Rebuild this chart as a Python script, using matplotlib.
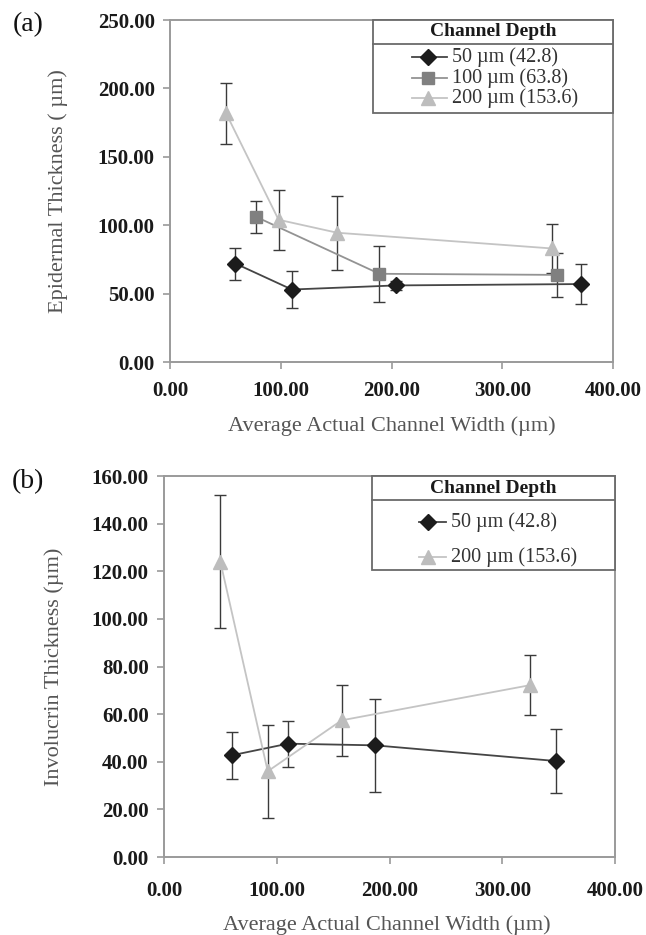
import matplotlib
matplotlib.use("Agg")
import matplotlib.pyplot as plt
from matplotlib.lines import Line2D
from matplotlib.patches import Rectangle
from matplotlib.ticker import FormatStrFormatter

plt.rcParams['font.family'] = ['Liberation Serif', 'DejaVu Serif']

# ---- panel (a): epidermal thickness ----
a_50_x = [59, 110, 204, 371]
a_50_y = [72, 53, 56, 57]
a_50_err = [11.7, 13.4, 3, 14.7]

a_100_x = [78, 189, 349]
a_100_y = [106, 64.5, 63.7]
a_100_err = [12, 20.6, 16]

a_200_x = [50.5, 98, 151, 345]
a_200_y = [182, 104, 94.5, 83]
a_200_err = [22.3, 22, 27, 17.7]

# ---- panel (b): involucrin thickness ----
b_50_x = [60, 110, 187, 348]
b_50_y = [42.7, 47.6, 46.9, 40.3]
b_50_err = [9.8, 9.6, 19.4, 13.3]

b_200_x = [50, 92, 157.5, 325]
b_200_y = [124, 36, 57.4, 72.2]
b_200_err = [27.9, 19.5, 14.9, 12.7]

labels = {'50': '50 µm (42.8)', '100': '100 µm (63.8)', '200': '200 µm (153.6)'}

styles = {
    '50': dict(marker='D', ms=8, mfc='#1c1c1c', mec='#1c1c1c', color='#454545', lw=1.3),
    '100': dict(marker='s', ms=9, mfc='#808080', mec='#808080', color='#939393', lw=1.3),
    '200': dict(marker='^', ms=10, mfc='#bdbdbd', mec='#bdbdbd', color='#c4c4c4', lw=1.3),
}

SPINE = '#9a9a9a'
TICKLBL = '#1a1a1a'
LABEL = '#555555'


def style_axes(ax, ymax, ystep, ylabel, xpad):
    ax.set_xlim(0, 400)
    ax.set_ylim(0, ymax)
    ax.set_xticks(range(0, 401, 100))
    ax.set_yticks(range(0, ymax + 1, ystep))
    ax.xaxis.set_major_formatter(FormatStrFormatter('%.2f'))
    ax.yaxis.set_major_formatter(FormatStrFormatter('%.2f'))
    for sp in ax.spines.values():
        sp.set_color(SPINE)
        sp.set_linewidth(1.4)
    ax.tick_params(direction='out', length=5, width=1.2, color=SPINE,
                   labelsize=15, labelcolor=TICKLBL)
    ax.tick_params(axis='x', pad=xpad)
    ax.tick_params(axis='y', pad=6)
    for t in ax.get_xticklabels() + ax.get_yticklabels():
        t.set_fontweight('bold')
    ax.set_xlabel('Average Actual Channel Width (µm)', fontsize=16, color=LABEL)
    ax.set_ylabel(ylabel, fontsize=16, color=LABEL)


def draw_series(ax, x, y, err, key):
    st = styles[key]
    ax.errorbar(x, y, yerr=err, fmt='none', ecolor='#3a3a3a', elinewidth=1.0,
                capsize=4, capthick=1.0, zorder=2)
    ax.plot(x, y, zorder=3, **st)


def draw_legend(ax, keys, box, sep_y, rows, key_x, text_x):
    x0, y0 = box
    ax.add_patch(Rectangle((x0, y0), 1 - x0, 1 - y0, transform=ax.transAxes,
                           fill=True, facecolor='white', edgecolor='#6a6a6a',
                           lw=1.3, zorder=5, clip_on=False))
    ax.add_line(Line2D([x0, 1], [sep_y, sep_y], transform=ax.transAxes,
                       color='#6a6a6a', lw=1.3, zorder=6))
    ax.text((x0 + 1) / 2, (1 + sep_y) / 2, 'Channel Depth', transform=ax.transAxes,
            ha='center', va='center', fontsize=14, fontweight='bold',
            color='#1a1a1a', zorder=7)
    for key, ry in zip(keys, rows):
        st = styles[key]
        ax.add_line(Line2D([key_x[0], key_x[2]], [ry, ry], transform=ax.transAxes,
                           color=st['color'], lw=st['lw'], zorder=7))
        ax.add_line(Line2D([key_x[1]], [ry], transform=ax.transAxes,
                           marker=st['marker'], ms=st['ms'], mfc=st['mfc'],
                           mec=st['mec'], ls='none', zorder=8))
        ax.text(text_x, ry, labels[key], transform=ax.transAxes, ha='left',
                va='center', fontsize=14.5, color='#333333', zorder=8)


fig = plt.figure(figsize=(6.46, 9.35), dpi=100)
ax_a = fig.add_axes([0.2632, 0.6128, 0.6858, 0.3658])
ax_b = fig.add_axes([0.2539, 0.0834, 0.6981, 0.4075])

# panel (a)
draw_series(ax_a, a_50_x, a_50_y, a_50_err, '50')
draw_series(ax_a, a_100_x, a_100_y, a_100_err, '100')
draw_series(ax_a, a_200_x, a_200_y, a_200_err, '200')
style_axes(ax_a, 250, 50, 'Epidermal Thickness ( µm)', 9)
ax_a.xaxis.set_label_coords(0.5, -0.158)
ax_a.yaxis.set_label_coords(-0.23, 0.5)
draw_legend(ax_a, ['50', '100', '200'], (0.458, 0.728), 0.93,
            [0.892, 0.830, 0.772], (0.546, 0.582, 0.625), 0.637)

# panel (b)
draw_series(ax_b, b_50_x, b_50_y, b_50_err, '50')
draw_series(ax_b, b_200_x, b_200_y, b_200_err, '200')
style_axes(ax_b, 160, 20, 'Involucrin Thickness (µm)', 12)
ax_b.xaxis.set_label_coords(0.495, -0.152)
ax_b.yaxis.set_label_coords(-0.222, 0.5)
draw_legend(ax_b, ['50', '200'], (0.461, 0.753), 0.937,
            [0.879, 0.787], (0.565, 0.585, 0.625), 0.636)

fig.text(28 / 646, 1 - 25 / 935, '(a)', fontsize=20, ha='center', va='center', color='#111111')
fig.text(28 / 646, 1 - 482 / 935, '(b)', fontsize=20, ha='center', va='center', color='#111111')

fig.savefig('out.png', dpi=100, facecolor='white')
